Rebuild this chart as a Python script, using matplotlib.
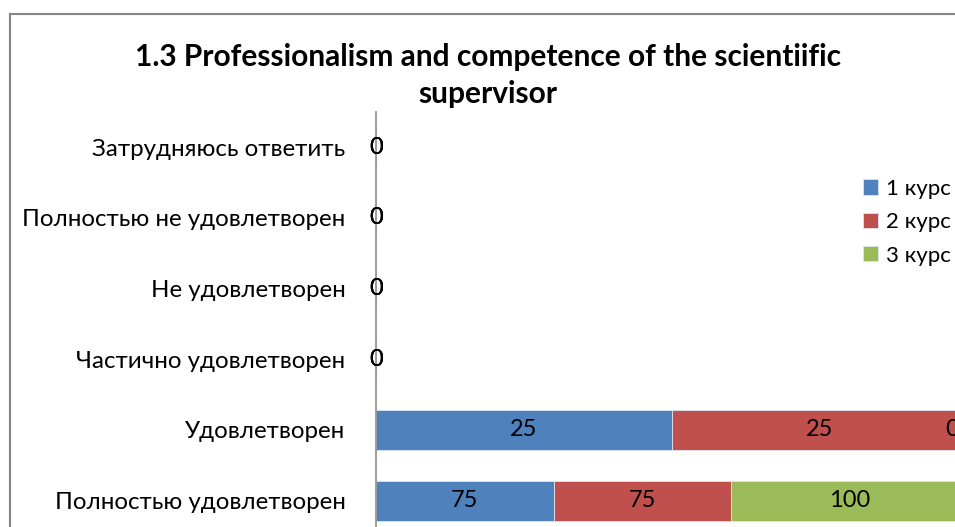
import matplotlib.pyplot as plt
import numpy as np
from matplotlib.lines import Line2D

plt.rcParams['font.family'] = ['Lato', 'DejaVu Sans']

categories = ["Затрудняюсь ответить", "Полностью не удовлетворен", "Не удовлетворен",
              "Частично удовлетворен", "Удовлетворен", "Полностью удовлетворен"]
series_names = ["1 курс", "2 курс", "3 курс"]
course1 = [0, 0, 0, 0, 25, 75]
course2 = [0, 0, 0, 0, 25, 75]
course3 = [0, 0, 0, 0, 0, 100]
colors = ["#4F81BD", "#C0504D", "#9BBB59"]
title = "1.3 Professionalism and competence of the scientiific\nsupervisor"


def main():
    values = np.array([course1, course2, course3], dtype=float)
    totals = values.sum(axis=0)
    shares = np.divide(values, totals, out=np.zeros_like(values), where=totals > 0)

    fig = plt.figure(figsize=(9.55, 5.27), dpi=100)
    # plot area runs past the right/bottom edge like the cropped original
    ax = fig.add_axes([376 / 955, 1 - 536 / 527, 592 / 955, 424 / 527])

    y = np.arange(len(categories))
    left = np.zeros(len(categories))
    for i, name in enumerate(series_names):
        ax.barh(y, shares[i], left=left, height=0.57, color=colors[i],
                edgecolor="#DCE6F2", linewidth=0.6, label=name)
        for j in range(len(categories)):
            # labels are kept inside the chart area, as Excel does
            xpos = min(left[j] + shares[i][j] / 2, 0.973)
            ax.text(xpos, y[j], f"{values[i][j]:g}",
                    ha="center", va="center", fontsize=17, color="black",
                    clip_on=False)
        left += shares[i]

    ax.set_xlim(0, 1)
    ax.set_ylim(len(categories) - 0.5, -0.5)
    ax.set_yticks(y)
    ax.set_yticklabels(categories, fontsize=17.4)
    ax.tick_params(axis="y", length=0, pad=22)
    ax.xaxis.set_visible(False)
    for side in ["top", "right", "bottom"]:
        ax.spines[side].set_visible(False)
    ax.spines["left"].set_color("#8C8C8C")
    ax.spines["left"].set_linewidth(1.2)

    fig.text(488 / 955, 1 - 43 / 527, title, ha="center", va="top",
             fontsize=21.5, fontweight="bold", linespacing=1.37)

    fig.legend(loc="upper left", bbox_to_anchor=(854 / 955, 1 - 170 / 527),
               frameon=False, fontsize=16, handlelength=0.68, handleheight=0.68,
               handletextpad=0.35, labelspacing=0.6, borderaxespad=0)

    # chart border (cropped on right and bottom)
    fig.add_artist(Line2D([10 / 955, 1], [1 - 14 / 527] * 2, color="#868686", lw=1.5))
    fig.add_artist(Line2D([10 / 955] * 2, [0, 1 - 14 / 527], color="#868686", lw=1.5))

    fig.savefig("out.png", dpi=100)


if __name__ == "__main__":
    main()
